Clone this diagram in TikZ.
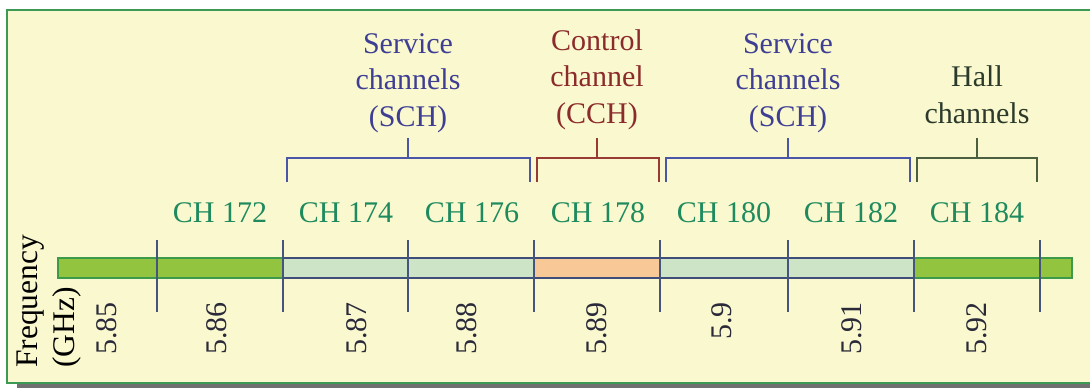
\documentclass[tikz,border=0pt]{standalone}
\usepackage{fontspec}
\setmainfont{Liberation Serif}

\definecolor{bgyellow}{HTML}{FAF8CE}
\definecolor{framegreen}{HTML}{3D9A55}
\definecolor{shadowgray}{HTML}{707070}
\definecolor{limefill}{HTML}{93C43F}
\definecolor{limeedge}{HTML}{3D9A4A}
\definecolor{mintfill}{HTML}{CDE5C6}
\definecolor{navyedge}{HTML}{3E4D7A}
\definecolor{orangefill}{HTML}{F8C897}
\definecolor{tickcol}{HTML}{46557E}
\definecolor{schtext}{HTML}{3E3E94}
\definecolor{schline}{HTML}{4C56A8}
\definecolor{cchtext}{HTML}{8C2B2B}
\definecolor{cchline}{HTML}{9A3A35}
\definecolor{halltext}{HTML}{2B3A2B}
\definecolor{hallline}{HTML}{4A6040}
\definecolor{chtext}{HTML}{1E8A5E}
\definecolor{numtext}{HTML}{2A2A3A}

\newcommand\lblfont{\fontsize{30}{36.5}\selectfont}
\newcommand\axisfont{\fontsize{31.5}{37}\selectfont}

\begin{document}
\begin{tikzpicture}[x=1pt,y=-1pt,
  grouplabel/.style={align=center, font=\lblfont, inner sep=0pt, anchor=base},
  chlabel/.style={font=\lblfont, text=chtext, inner sep=0pt, anchor=base},
  freqlabel/.style={font=\lblfont, text=numtext, inner sep=0pt, rotate=90, anchor=east},
  seg/.style={line width=1.6pt},
  tickmark/.style={draw=tickcol, line width=1.5pt},
  bracket/.style={line width=1.4pt}]
\useasboundingbox (0,0) rectangle (1090,388);
\clip (0,0) rectangle (1090,388);

% panel with drop shadow
\fill[shadowgray] (17,384) rectangle (1100,395);
\draw[framegreen, line width=2pt, fill=bgyellow] (7,10) rectangle (1100,383);

% frequency bar
\draw[seg, draw=limeedge, fill=limefill] (58,258) rectangle (283,278);
\draw[seg, draw=navyedge, fill=mintfill] (283,258) rectangle (534,278);
\draw[seg, draw=navyedge, fill=orangefill] (534,258) rectangle (660,278);
\draw[seg, draw=navyedge, fill=mintfill] (660,258) rectangle (914,278);
\draw[seg, draw=limeedge, fill=limefill] (914,258) rectangle (1072,278);

% channel boundaries
\foreach \x in {157,283,408,534,660,788,914,1040}
  \draw[tickmark] (\x,240) -- (\x,312);

% channel numbers
\node[chlabel] (ch172) at (220,222) {CH 172};
\node[chlabel] (ch174) at (346,222) {CH 174};
\node[chlabel] (ch176) at (472,222) {CH 176};
\node[chlabel] (ch178) at (598,222) {CH 178};
\node[chlabel] (ch180) at (724,222) {CH 180};
\node[chlabel] (ch182) at (851,222) {CH 182};
\node[chlabel] (ch184) at (977,222) {CH 184};

% centre frequencies
\node[freqlabel] (f585) at (107,302) {5.85};
\node[freqlabel] (f586) at (217,302) {5.86};
\node[freqlabel] (f587) at (357,302) {5.87};
\node[freqlabel] (f588) at (467,302) {5.88};
\node[freqlabel] (f589) at (597,302) {5.89};
\node[freqlabel] (f590) at (722,302) {5.9};
\node[freqlabel] (f591) at (852,302) {5.91};
\node[freqlabel] (f592) at (977,302) {5.92};

% axis title
\node[font=\axisfont, align=left, inner sep=0pt, rotate=90, anchor=north west]
  (axis) at (17,368) {Frequency\\(GHz)};

% channel groups (anchored at the baseline of the last line)
\node[grouplabel, text=schtext] (sch1) at (408,126) {Service\\channels\\(SCH)};
\node[grouplabel, text=cchtext] (cch) at (597,123) {Control\\channel\\(CCH)};
\node[grouplabel, text=schtext] (sch2) at (788,126) {Service\\channels\\(SCH)};
\node[grouplabel, text=halltext] (hall) at (977,123) {Hall\\channels};

\draw[bracket, schline] (287,182) |- (530,158) -- (530,182);
\draw[bracket, schline] (408,158) -- (408,138);
\draw[bracket, cchline] (537,182) |- (659,158) -- (659,182);
\draw[bracket, cchline] (597,158) -- (597,138);
\draw[bracket, schline] (666,182) |- (910,158) -- (910,182);
\draw[bracket, schline] (788,158) -- (788,138);
\draw[bracket, hallline] (917,182) |- (1037,158) -- (1037,182);
\draw[bracket, hallline] (977,158) -- (977,138);
\end{tikzpicture}
\end{document}
